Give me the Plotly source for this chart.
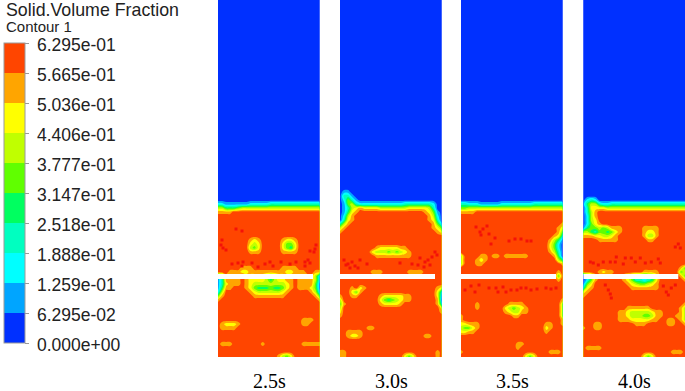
import plotly.graph_objects as go

W, H = 685, 391
STEP = 0.06295
TITLE = "Solid.Volume Fraction"
SUBTITLE = "Contour 1"
TICK_VALUES = [0, 0.06295, 0.1259, 0.1888, 0.2518, 0.3147, 0.3777, 0.4406, 0.5036, 0.5665, 0.6295]
TICK_LABELS = ["0.000e+00", "6.295e-02", "1.259e-01", "1.888e-01", "2.518e-01", "3.147e-01",
               "3.777e-01", "4.406e-01", "5.036e-01", "5.665e-01", "6.295e-01"]
BAND_COLORS = ["#0030ff", "#00a5ff", "#00ffff", "#00ffc0", "#00ff60",
               "#60ff00", "#c0ff00", "#ffff00", "#ffa500", "#ff4500"]
TIMES = ["2.5s", "3.0s", "3.5s", "4.0s"]
TIME_X = [269, 391, 512.5, 634]
PANEL_LEFT = [218, 340, 461, 583.3]
PANEL_WIDTH = 101.7
PANEL_BOTTOM = 357
SLOT_TOP, SLOT_BOTTOM, SLOT_END = 274, 279, 95

# band index (0-9) read on a 26-column grid, row key = pixel height; unlisted rows: 0 above y=204, 9 below
P1 = {
    204: "22111 11122 22233 33333 333333", 208: "66444 56666 66666 66666 666666",
    212: "88889 99999 99999 99999 999999",
    240: "99999 99987 89999 98778 999999", 244: "99999 99976 79999 97557 999999",
    248: "99999 99965 79999 97547 999999", 252: "99999 99988 89999 98888 999999",
    268: "99999 98889 99999 98888 999999", 272: "99988 87788 88888 88778 889988",
    276: "13888 89877 77646 77889 888862", 280: "13888 89877 77646 77889 888862",
    284: "13788 89876 66666 66789 888851", 288: "14889 99875 44454 45789 888751",
    292: "26999 99987 66666 67899 999862", 296: "58999 99998 88888 88999 999985",
    300: "89999 99999 99999 99999 999998", 320: "99999 99999 99999 99999 988899",
    324: "98777 89999 99999 99999 988999", 328: "98888 99999 99999 99999 999999",
    344: "98889 99999 98999 99999 988888", 356: "99999 99999 99999 86579 999999",
}
P2 = {
    192: "01100 00000 00000 00000 000000", 196: "03310 00000 00000 00000 000000",
    200: "02531 00000 00000 00000 000000", 204: "01563 22222 22222 23333 333200",
    208: "01367 87777 66666 66777 776300", 212: "01478 99999 99999 99999 987510",
    216: "02689 99999 99999 99999 998620", 220: "03789 99999 99999 99999 998730",
    224: "36899 99999 99999 99999 999852", 228: "68999 99999 99999 99999 999875",
    232: "89999 99999 99999 99999 999987", 248: "99999 99998 77777 88999 999999",
    252: "99999 99976 66565 67899 999999", 256: "99999 99998 88888 88899 999999",
    272: "99999 99988 89999 99888 899999", 288: "99989 78999 99999 99999 999987",
    292: "99975 89999 99999 99999 999973", 296: "89988 99999 87777 78899 999972",
    300: "69999 99999 75456 78899 999981", 304: "58999 99999 87777 89999 999983",
    308: "69999 99999 99999 99999 999997", 312: "79999 99999 99999 99999 999998",
    316: "89999 99999 99999 99999 999999", 328: "99999 99889 99999 99999 999999",
    332: "99888 89999 99999 99999 999999", 336: "99877 89999 99999 99999 988999",
    352: "88999 99999 99999 99999 999989", 356: "88999 99999 99999 97579 999989",
}
P3 = {
    204: "33222 11111 22222 22233 333333", 208: "55666 66666 66666 66666 666666",
    212: "88889 99999 99999 99999 999999", 224: "99999 99999 99999 99999 999998",
    228: "99999 99999 99999 99999 999987", 232: "99999 99999 99999 99999 999985",
    236: "99999 99999 99999 99999 999873", 240: "99999 99999 99999 99999 998641",
    244: "99999 99999 99999 99999 997520", 248: "99999 99999 99999 99999 997520",
    252: "99999 99999 99999 99999 998630", 256: "69999 88988 98888 88999 999840",
    260: "69998 78999 99999 99999 999964", 264: "69998 89999 99999 99999 999998",
    272: "99999 99999 99999 99999 999989", 276: "99999 99999 99999 99999 999959",
    280: "99999 99999 99999 99999 999989", 300: "99999 99999 99999 99999 999998",
    304: "99998 99999 99888 89999 999996", 308: "99998 99999 97656 78999 999996",
    312: "99999 99999 98766 88999 999996", 316: "89999 99999 99988 99999 999996",
    320: "89999 99999 99999 99999 999998", 324: "77888 99999 99999 99999 988998",
    328: "65578 99999 99999 99999 978999", 332: "77889 99999 99999 99999 989999",
    344: "99999 99999 99998 89999 999999", 348: "99999 99999 99998 99999 999999",
    352: "89999 99999 99999 99999 998889", 356: "99999 99999 99999 97579 999999",
}
P4 = {
    200: "02320 00000 00000 00000 000000", 204: "14663 22333 33333 33333 333333",
    208: "03777 76666 66666 66666 666666", 212: "03689 99999 99999 99999 999999",
    216: "02689 99999 99999 99999 999999", 220: "02679 99999 99999 99999 999999",
    224: "02578 99999 99999 99999 999999", 228: "14556 56888 99999 88889 999999",
    232: "66435 54578 99999 87789 999999", 236: "88877 66789 99999 86689 999999",
    240: "99998 88889 99999 98899 999999", 268: "99999 99999 99999 99999 999985",
    272: "99998 78899 99999 88889 999956", 276: "02589 99999 87533 23479 999985",
    280: "02589 99999 87533 23479 999998", 284: "15799 99999 98765 56789 999999",
    288: "37899 99999 99888 88889 999999", 292: "78999 99999 99999 99999 999999",
    296: "89999 99999 99999 99999 999999", 304: "99999 99999 99999 99999 999998",
    308: "99999 99999 98888 88999 999986", 312: "99999 99998 87666 66788 999986",
    316: "99999 99998 87666 55688 999886", 320: "99999 99998 88777 77889 988986",
    324: "99988 99999 99988 89999 988998", 328: "89988 99999 99999 99999 999999",
    348: "98888 99999 99999 99999 999999", 352: "99999 99999 99999 99999 998889",
    356: "99999 99999 99999 75799 999999",
}
PANELS = [P1, P2, P3, P4]

# darker red flecks above the top band (x from panel's left edge, y in pixels)
FLECK_X = [
    [4, 3, 5, 8, 98, 97, 96, 92, 14, 20, 25, 24, 34, 40, 47, 52, 55, 63, 72, 78, 87, 90, 92, 87, 18, 24],
    [8, 12, 15, 10, 18, 4, 6, 20, 27, 80, 85, 88, 92, 95, 97, 78, 90, 84, 72, 60],
    [15, 19, 22, 20, 26, 28, 34, 30, 48, 54, 60, 66, 70, 4, 10, 14, 18, 28, 35, 37, 42, 45, 50, 56, 60, 65, 70, 76, 85, 90, 95],
    [7, 10, 15, 20, 27, 33, 32, 40, 42, 48, 52, 57, 62, 68, 75, 77, 92, 95, 97, 22, 25, 27, 28, 80, 83, 88, 85, 92],
]
FLECK_Y = [
    [240, 245, 248, 250, 245, 249, 252, 251, 264, 263, 262, 266, 263, 267, 264, 262, 266, 262, 264, 262, 262, 260, 263, 266, 229, 231],
    [264, 262, 266, 268, 268, 260, 265, 260, 264, 258, 262, 260, 257, 252, 255, 265, 265, 267, 264, 263],
    [227, 232, 229, 235, 226, 234, 238, 244, 241, 239, 239, 241, 241, 290, 286, 292, 285, 288, 288, 292, 287, 292, 290, 290, 288, 288, 290, 289, 288, 289, 288],
    [262, 263, 265, 262, 262, 257, 262, 264, 258, 258, 262, 258, 263, 262, 259, 263, 247, 244, 248, 285, 290, 294, 298, 286, 292, 288, 295, 285],
]


def grid(panel):
    ys = list(range(192, 357, 4))
    rows = []
    for y in ys:
        default = "0" * 26 if y < 204 else "9" * 26
        chars = panel.get(y, default).replace(" ", "")
        chars = (chars + "9" * 26)[:26]
        rows.append([(int(c) + 0.5) * STEP for c in chars])
    top = [0.5 * STEP] * 26
    return [0, 188] + ys + [PANEL_BOTTOM], [top, top] + rows + [rows[-1]]


# plotly samples each filled band at (k + 0.5) / 9 of the colour scale for this level set
colorscale = [[0, BAND_COLORS[0]]]
for k, c in enumerate(BAND_COLORS[:9]):
    colorscale.append([(k + 0.5) / 9, c])
colorscale.append([1, BAND_COLORS[9]])

fig = go.Figure()
shapes = []
layout_axes = {}
for n, panel in enumerate(PANELS):
    ax = "" if n == 0 else str(n + 1)
    ys, zs = grid(panel)
    xs = [i * PANEL_WIDTH / 25 for i in range(26)]
    trace = dict(
        x=xs, y=ys, z=zs, xaxis="x" + ax, yaxis="y" + ax,
        zmin=0, zmax=TICK_VALUES[-1], colorscale=colorscale,
        autocontour=False,
        contours=dict(start=0, end=0.62, size=STEP, coloring="fill", showlines=False),
        line=dict(width=0), hoverinfo="skip",
        showscale=n == 0,
    )
    if n == 0:
        trace["colorbar"] = dict(
            x=4 / W, xanchor="left", xpad=0, y=1 - 43 / H, yanchor="top", ypad=0,
            lenmode="pixels", len=300, thicknessmode="pixels", thickness=21,
            outlinecolor="#9a9a9a", outlinewidth=1, borderwidth=0,
            tickmode="array", tickvals=TICK_VALUES, ticktext=TICK_LABELS,
            ticks="outside", ticklen=4, tickwidth=1, tickcolor="#9a9a9a",
            showticklabels=False,
        )
    fig.add_trace(go.Contour(**trace))
    fig.add_trace(go.Scatter(
        x=FLECK_X[n], y=FLECK_Y[n], xaxis="x" + ax, yaxis="y" + ax, mode="markers",
        marker=dict(color="#f41208", size=3, symbol="square"),
        showlegend=False, hoverinfo="skip",
    ))
    x0 = PANEL_LEFT[n]
    x1 = min(x0 + PANEL_WIDTH, W)
    layout_axes["xaxis" + ax] = dict(domain=[x0 / W, x1 / W], range=[0, x1 - x0], visible=False, fixedrange=True)
    layout_axes["yaxis" + ax] = dict(domain=[1 - PANEL_BOTTOM / H, 1], range=[PANEL_BOTTOM, 0], visible=False, fixedrange=True)
    shapes.append(dict(type="rect", xref="x" + ax, yref="y" + ax, x0=0, x1=SLOT_END,
                       y0=SLOT_TOP, y1=SLOT_BOTTOM, fillcolor="white", line=dict(width=0)))

annotations = [
    dict(text=TITLE, x=4, y=10, font=dict(family="Liberation Sans", size=17.8, color="#222222")),
    dict(text=SUBTITLE, x=4, y=27, font=dict(family="Liberation Sans", size=15, color="#222222")),
]
# colour-bar tick labels, 30 px per band from the bar's top edge at y = 43
for idx, label in enumerate(TICK_LABELS):
    annotations.append(dict(text=label, x=35, y=345 - 30 * idx,
                            font=dict(family="Liberation Sans", size=17.5, color="#222222")))
for a in annotations:
    a.update(xref="paper", yref="paper", xanchor="left", yanchor="middle", showarrow=False)
    a["x"] = a["x"] / W
    a["y"] = 1 - a["y"] / H
for t, x in zip(TIMES, TIME_X):
    annotations.append(dict(text=t, x=x / W, y=1 - 381 / H, xref="paper", yref="paper",
                            xanchor="center", yanchor="middle", showarrow=False,
                            font=dict(family="Liberation Serif", size=20, color="black")))

fig.update_layout(
    width=W, height=H, margin=dict(l=0, r=0, t=0, b=0, autoexpand=False),
    paper_bgcolor="white", plot_bgcolor="white", showlegend=False,
    shapes=shapes, annotations=annotations, **layout_axes,
)
fig.write_html("out.html", config=dict(displayModeBar=False),
               post_script="document.body.style.margin='0';")
